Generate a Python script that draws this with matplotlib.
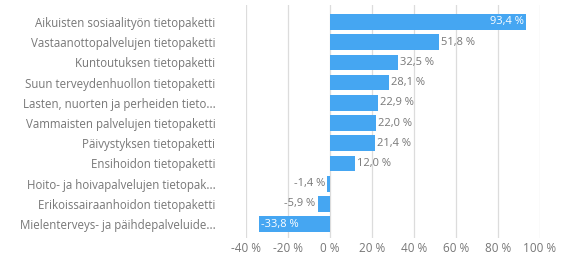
import matplotlib.pyplot as plt

# tietopaketit ja muutos-%
categories = [
    "Aikuisten sosiaalityön tietopaketti",
    "Vastaanottopalvelujen tietopaketti",
    "Kuntoutuksen tietopaketti",
    "Suun terveydenhuollon tietopaketti",
    "Lasten, nuorten ja perheiden tieto...",
    "Vammaisten palvelujen tietopaketti",
    "Päivystyksen tietopaketti",
    "Ensihoidon tietopaketti",
    "Hoito- ja hoivapalvelujen tietopak...",
    "Erikoissairaanhoidon tietopaketti",
    "Mielenterveys- ja päihdepalveluide...",
]
values = [93.4, 51.8, 32.5, 28.1, 22.9, 22.0, 21.4, 12.0, -1.4, -5.9, -33.8]
xticks = [-40, -20, 0, 20, 40, 60, 80, 100]

BLUE = "#45a6f2"
GRAY = "#777777"

plt.rcParams["font.family"] = ["Open Sans", "DejaVu Sans"]

fig = plt.figure(figsize=(5.63, 2.57), dpi=100)
ax = fig.add_axes([246 / 563, 1 - 238 / 257, (540 - 246) / 563, (238 - 5) / 257])

y = list(range(len(categories)))
ax.barh(y, values, height=0.78, color=BLUE, zorder=2)

def fmt(v):
    return f"{v:.1f} %".replace(".", ",")

for yi, v in zip(y, values):
    if v > 80:
        ax.text(v - 1, yi, fmt(v), ha="right", va="center", color="white", fontsize=8)
    elif v < -20:
        ax.text(v + 1, yi, fmt(v), ha="left", va="center", color="white", fontsize=8)
    elif v >= 0:
        ax.text(v + 1, yi, fmt(v), ha="left", va="center", color=GRAY, fontsize=8)
    else:
        ax.text(v - 1, yi, fmt(v), ha="right", va="center", color=GRAY, fontsize=8)

ax.set_xlim(-40, 100)
ax.set_ylim(10.69, -0.84)
ax.set_xticks(xticks)
ax.set_xticklabels([f"{t} %" for t in xticks], color=GRAY, fontsize=8.5)
ax.set_yticks(y)
ax.set_yticklabels(categories, color=GRAY, fontsize=8.3)
ax.tick_params(axis="x", length=0, pad=3)
ax.tick_params(axis="y", length=0, pad=22)
ax.grid(axis="x", color="#dcdcdc", linewidth=0.9, zorder=0)
for s in ax.spines.values():
    s.set_visible(False)

plt.savefig("out.png", dpi=100)
